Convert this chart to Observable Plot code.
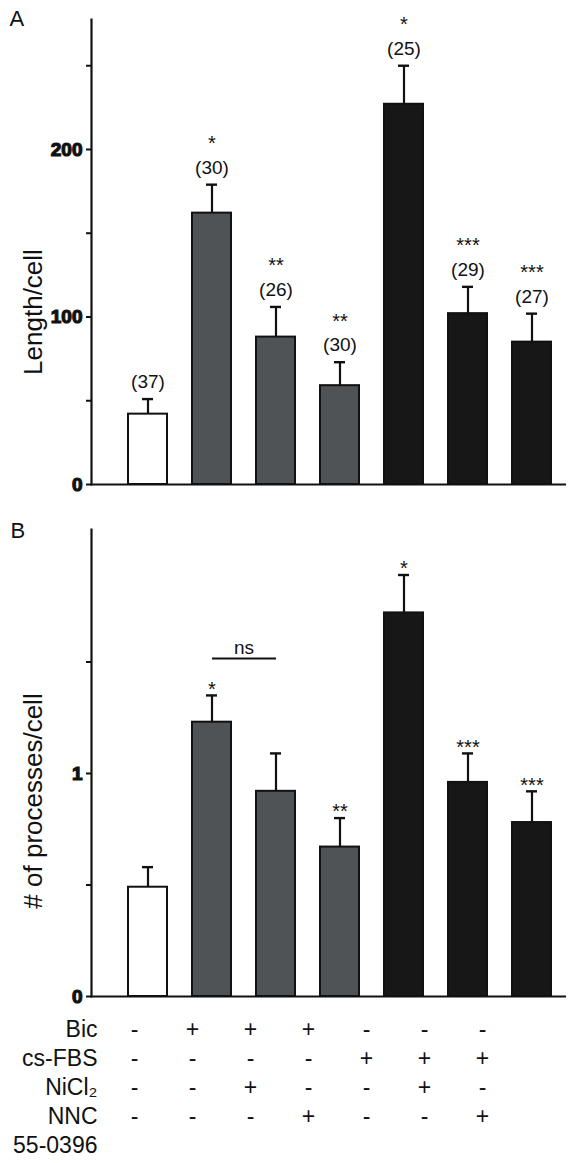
<!DOCTYPE html>
<html>
<head>
<meta charset="utf-8">
<script src="https://cdn.jsdelivr.net/npm/d3@7"></script>
<script src="https://cdn.jsdelivr.net/npm/@observablehq/plot@0.6"></script>
<style>
  body { margin: 0; background: white; }
  #chart { width: 576px; font-family: "Liberation Sans", Arial, sans-serif; }
  #chart svg { display: block; }
  .heavy [aria-label="y-axis tick label"] text { stroke: #111; stroke-width: 1.2px; }
</style>
</head>
<body>
<div id="chart"></div>
<script>
// ---- data ----
const groups = ["Control", "Bic", "Bic+NiCl2", "Bic+NNC", "cs-FBS", "cs-FBS+NiCl2", "cs-FBS+NNC"];
const barFills = ["#ffffff", "#4f5356", "#4f5356", "#4f5356", "#171717", "#171717", "#171717"];

// Panel A: length per cell
const lengthMean = [42, 162, 88, 59, 227, 102, 85];
const lengthErrTop = [51, 179, 106, 73, 250, 118, 102];
const lengthN = ["(37)", "(30)", "(26)", "(30)", "(25)", "(29)", "(27)"];
const lengthSig = ["", "*", "**", "**", "*", "***", "***"];
const lengthTicks = [0, 50, 100, 150, 200, 250];
const lengthTickLabels = [0, 100, 200];

// Panel B: processes per cell
const procMean = [0.49, 1.23, 0.92, 0.67, 1.72, 0.96, 0.78];
const procErrTop = [0.58, 1.35, 1.09, 0.80, 1.89, 1.09, 0.92];
const procSig = ["", "*", "", "**", "*", "***", "***"];
const procTicks = [0, 0.5, 1, 1.5];
const procTickLabels = [0, 1];
const nsFrom = "Bic", nsTo = "Bic+NiCl2", nsLevel = 1.516;

// Treatment table
const tableRows = ["Bic", "cs-FBS", "NiCl\u2082", "NNC", "55-0396"];
const bicRow   = ["-", "+", "+", "+", "-", "-", "-"];
const fbsRow   = ["-", "-", "-", "-", "+", "+", "+"];
const niclRow  = ["-", "-", "+", "-", "-", "+", "-"];
const nncRow   = ["-", "-", "-", "+", "-", "-", "+"];

// ---- build tables ----
const dataA = groups.map((g, i) => ({group: g, mean: lengthMean[i], err: lengthErrTop[i], n: lengthN[i], sig: lengthSig[i], fill: barFills[i]}));
const dataB = groups.map((g, i) => ({group: g, mean: procMean[i], err: procErrTop[i], sig: procSig[i], fill: barFills[i]}));
const tableCells = [];
[bicRow, fbsRow, niclRow, nncRow].forEach((row, r) => row.forEach((v, i) => tableCells.push({row: tableRows[r], group: groups[i], v})));

const FONT = "Liberation Sans, Arial, sans-serif";
const xOpts = {domain: groups, range: [127, 551], paddingInner: 0.392, paddingOuter: 0, axis: null};

function barMarks(data, ticks, labels) {
  return [
    Plot.barY(data, {x: "group", y: "mean", fill: "fill", stroke: "#111", strokeWidth: 2}),
    Plot.ruleX(data, {x: "group", y1: "mean", y2: "err", stroke: "#111", strokeWidth: 2.2}),
    Plot.tickY(data, {x: "group", y: "err", stroke: "#111", strokeWidth: 2.4, insetLeft: 14, insetRight: 14}),
    Plot.axisY({ticks, tickSize: 5, tickPadding: 4, strokeWidth: 2, stroke: "#111",
      tickFormat: d => labels.includes(d) ? String(d) : "", fontSize: 19, fontWeight: "bold", fill: "#111", label: null}),
    Plot.frame({anchor: "left", stroke: "#111", strokeWidth: 2.2}),
    Plot.ruleY([0], {stroke: "#111", strokeWidth: 2.2})
  ];
}

const plotA = Plot.plot({
  width: 576, height: 500,
  marginTop: 19, marginBottom: 16, marginLeft: 91, marginRight: 10,
  style: {fontFamily: FONT, background: "white"},
  x: xOpts,
  y: {domain: [0, 277.6], axis: null},
  color: {type: "identity"},
  marks: [
    ...barMarks(dataA, lengthTicks, lengthTickLabels),
    Plot.text(dataA, {x: "group", y: "err", text: "n", dy: -17, fontSize: 19, fill: "#111"}),
    Plot.text(dataA, {x: "group", y: "err", text: "sig", dy: -41, fontSize: 20, fill: "#111"}),
    Plot.text(["Length/cell"], {frameAnchor: "left", textAnchor: "middle", rotate: -90, dx: -58, dy: 60, fontSize: 26, fill: "#111"}),
    Plot.text(["A"], {frameAnchor: "top-left", textAnchor: "start", lineAnchor: "top", dx: -82, dy: -9, fontSize: 22, fill: "#111"})
  ]
});
plotA.classList.add("heavy");

const plotB = Plot.plot({
  width: 576, height: 510,
  marginTop: 29, marginBottom: 14, marginLeft: 91, marginRight: 10,
  style: {fontFamily: FONT, background: "white"},
  x: xOpts,
  y: {domain: [0, 2.094], axis: null},
  color: {type: "identity"},
  marks: [
    ...barMarks(dataB, procTicks, procTickLabels),
    Plot.text(dataB, {x: "group", y: "err", text: "sig", dy: -6, fontSize: 20, fill: "#111"}),
    Plot.link([{a: nsFrom, b: nsTo, y: nsLevel}], {x1: "a", x2: "b", y1: "y", y2: "y", stroke: "#111", strokeWidth: 2}),
    Plot.text([{a: nsFrom, b: nsTo, y: nsLevel}], {x: d => d.a, y: "y", text: () => "ns", dx: 32, dy: -10, fontSize: 19, fill: "#111"}),
    Plot.text(["# of processes/cell"], {frameAnchor: "left", textAnchor: "middle", rotate: -90, dx: -58, dy: 38, fontSize: 26, fill: "#111"}),
    Plot.text(["B"], {frameAnchor: "top-left", textAnchor: "start", lineAnchor: "top", dx: -81, dy: -7, fontSize: 22, fill: "#111"})
  ]
});
plotB.classList.add("heavy");

const plotT = Plot.plot({
  width: 576, height: 153,
  marginTop: 0, marginBottom: 0, marginLeft: 97, marginRight: 10,
  style: {fontFamily: FONT, background: "white"},
  x: {type: "point", domain: groups, range: [133, 482], padding: 0, axis: null},
  y: {type: "point", domain: tableRows, range: [17, 136], padding: 0, axis: null},
  marks: [
    Plot.text(tableRows, {y: d => d, text: d => d, frameAnchor: "left", textAnchor: "end", fontSize: 23, fill: "#111"}),
    Plot.text(tableCells, {x: "group", y: "row", text: "v", fontSize: 23, fill: "#111"})
  ]
});

const root = document.getElementById("chart");
root.append(plotA, plotB, plotT);
</script>
</body>
</html>
